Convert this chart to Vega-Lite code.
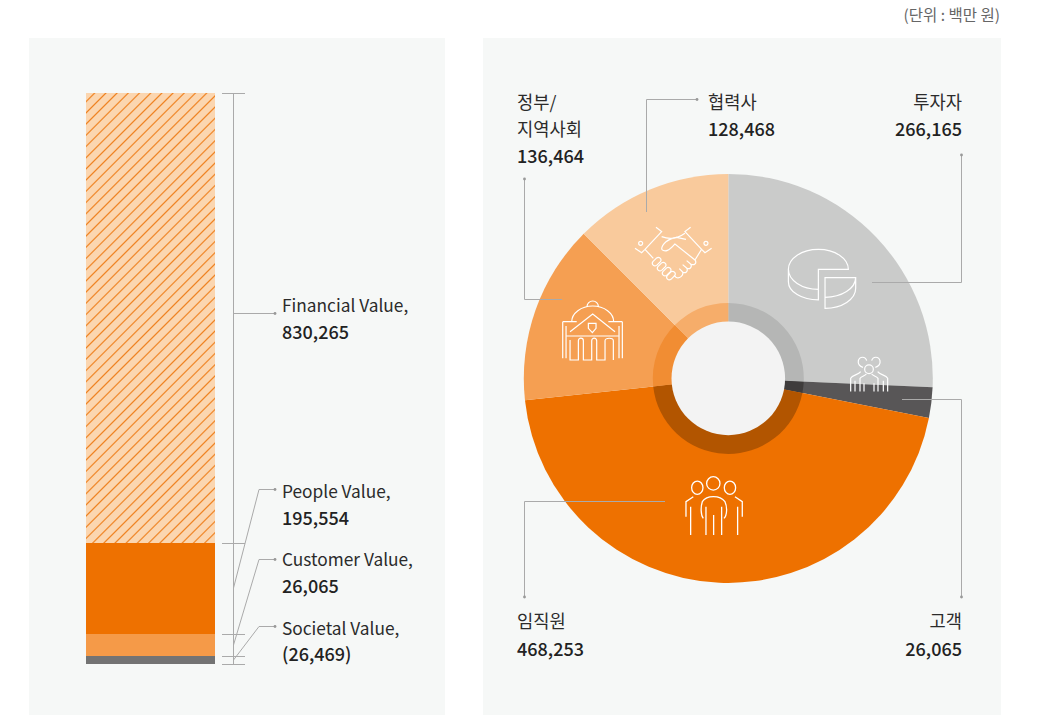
{"$schema":"https://vega.github.io/schema/vega-lite/v6.json","width":1038,"height":715,"padding":0,"autosize":{"type":"fit","contains":"padding"},"background":"#ffffff","config":{"view":{"stroke":null},"font":"Noto Sans CJK KR"},
"datasets":{
"panels":[{"name":"left","x":29,"x2":445,"y":38,"y2":715},{"name":"right","x":483,"x2":1001,"y":38,"y2":715}],
"stack":[{"seg":"People Value","value":195554,"y":543,"y2":634},{"seg":"Customer Value","value":26065,"y":634,"y2":656},{"seg":"Societal Value","value":-26469,"y":656,"y2":664}],
"pie":[{"seg":"투자자","value":266165,"deg":92.5,"ord":1},{"seg":"고객","value":26065,"deg":8.7,"ord":2},{"seg":"임직원","value":468253,"deg":162.7,"ord":3},{"seg":"정부/지역사회","value":136464,"deg":51.1,"ord":4},{"seg":"협력사","value":128468,"deg":45,"ord":5}],
"lines":[
{"g":"axis","o":1,"x":233.5,"y":93},{"g":"axis","o":2,"x":233.5,"y":664},
{"g":"t1","o":1,"x":222,"y":93.5},{"g":"t1","o":2,"x":245,"y":93.5},
{"g":"t2","o":1,"x":222,"y":543.5},{"g":"t2","o":2,"x":245,"y":543.5},
{"g":"t3","o":1,"x":222,"y":634.5},{"g":"t3","o":2,"x":245,"y":634.5},
{"g":"t4","o":1,"x":222,"y":656.5},{"g":"t4","o":2,"x":245,"y":656.5},
{"g":"t5","o":1,"x":222,"y":664.5},{"g":"t5","o":2,"x":245,"y":664.5},
{"g":"fin","o":1,"x":233.5,"y":313.5},{"g":"fin","o":2,"x":275,"y":313.5},
{"g":"peo","o":1,"x":233.5,"y":588},{"g":"peo","o":2,"x":259,"y":489.5},{"g":"peo","o":3,"x":275,"y":489.5},
{"g":"cus","o":1,"x":233.5,"y":645},{"g":"cus","o":2,"x":259,"y":559.5},{"g":"cus","o":3,"x":275,"y":559.5},
{"g":"soc","o":1,"x":233.5,"y":660},{"g":"soc","o":2,"x":259,"y":626.5},{"g":"soc","o":3,"x":275,"y":626.5},
{"g":"gov","o":1,"x":524.5,"y":179},{"g":"gov","o":2,"x":524.5,"y":299.5},{"g":"gov","o":3,"x":562,"y":299.5},
{"g":"par","o":1,"x":646.5,"y":212},{"g":"par","o":2,"x":646.5,"y":99.5},{"g":"par","o":3,"x":697,"y":99.5},
{"g":"inv","o":1,"x":961.5,"y":155},{"g":"inv","o":2,"x":961.5,"y":282.5},{"g":"inv","o":3,"x":872,"y":282.5},
{"g":"cli","o":1,"x":902,"y":399.5},{"g":"cli","o":2,"x":961.5,"y":399.5},{"g":"cli","o":3,"x":961.5,"y":597},
{"g":"emp","o":1,"x":665,"y":501.5},{"g":"emp","o":2,"x":524.5,"y":501.5},{"g":"emp","o":3,"x":524.5,"y":597}],
"dots":[{"x":275,"y":313.5},{"x":275,"y":489.5},{"x":275,"y":559.5},{"x":275,"y":626.5},{"x":524.5,"y":179},{"x":697,"y":99.5},{"x":961.5,"y":155},{"x":961.5,"y":597},{"x":524.5,"y":597}],
"textsL":[
{"t":"Financial Value,","x":282,"y":305,"k":"en"},{"t":"830,265","x":282,"y":332,"k":"num"},
{"t":"People Value,","x":282,"y":491,"k":"en"},{"t":"195,554","x":282,"y":518,"k":"num"},
{"t":"Customer Value,","x":282,"y":559,"k":"en"},{"t":"26,065","x":282,"y":586,"k":"num"},
{"t":"Societal Value,","x":282,"y":628,"k":"en"},{"t":"(26,469)","x":282,"y":654,"k":"num"},
{"t":"정부/","x":517,"y":102,"k":"ko"},{"t":"지역사회","x":517,"y":129,"k":"ko"},{"t":"136,464","x":517,"y":156,"k":"num"},
{"t":"협력사","x":708,"y":102,"k":"ko"},{"t":"128,468","x":708,"y":129,"k":"num"},
{"t":"임직원","x":517,"y":621,"k":"ko"},{"t":"468,253","x":517,"y":649,"k":"num"}],
"textsR":[
{"t":"투자자","x":962,"y":102,"k":"ko"},{"t":"266,165","x":962,"y":129,"k":"num"},
{"t":"고객","x":962,"y":621,"k":"ko"},{"t":"26,065","x":962,"y":649,"k":"num"}]
},
"resolve":{"scale":{"color":"independent"}},
"layer":[
{"data":{"name":"panels"},"mark":{"type":"rect","color":"#f6f8f7"},"encoding":{"x":{"field":"x","type":"quantitative","scale":{"domain":[0,1038],"nice":false,"zero":false},"axis":null},"x2":{"field":"x2"},"y":{"field":"y","type":"quantitative","scale":{"domain":[0,715],"reverse":true,"nice":false,"zero":false},"axis":null},"y2":{"field":"y2"}}},
{"data":{"values":[{"seg":"Financial Value","value":830265,"y":93,"y2":543}]},"mark":{"type":"rect","color":{"gradient":"linear","x1":0,"y1":0,"x2":0.34083,"y2":1.18893,"stops":[
{"offset":0,"color":"#fbd6b0"},{"offset":0.0122,"color":"#fbd6b0"},{"offset":0.015,"color":"#ee7f1c"},{"offset":0.0178,"color":"#fbd6b0"},
{"offset":0.0316,"color":"#fbd6b0"},{"offset":0.0344,"color":"#ee7f1c"},{"offset":0.0372,"color":"#fbd6b0"},
{"offset":0.0509,"color":"#fbd6b0"},{"offset":0.0537,"color":"#ee7f1c"},{"offset":0.0565,"color":"#fbd6b0"},
{"offset":0.0703,"color":"#fbd6b0"},{"offset":0.0731,"color":"#ee7f1c"},{"offset":0.0759,"color":"#fbd6b0"},
{"offset":0.0896,"color":"#fbd6b0"},{"offset":0.0924,"color":"#ee7f1c"},{"offset":0.0952,"color":"#fbd6b0"},
{"offset":0.109,"color":"#fbd6b0"},{"offset":0.1118,"color":"#ee7f1c"},{"offset":0.1146,"color":"#fbd6b0"},
{"offset":0.1283,"color":"#fbd6b0"},{"offset":0.1311,"color":"#ee7f1c"},{"offset":0.1339,"color":"#fbd6b0"},
{"offset":0.1476,"color":"#fbd6b0"},{"offset":0.1504,"color":"#ee7f1c"},{"offset":0.1532,"color":"#fbd6b0"},
{"offset":0.167,"color":"#fbd6b0"},{"offset":0.1698,"color":"#ee7f1c"},{"offset":0.1726,"color":"#fbd6b0"},
{"offset":0.1863,"color":"#fbd6b0"},{"offset":0.1891,"color":"#ee7f1c"},{"offset":0.1919,"color":"#fbd6b0"},
{"offset":0.2057,"color":"#fbd6b0"},{"offset":0.2085,"color":"#ee7f1c"},{"offset":0.2113,"color":"#fbd6b0"},
{"offset":0.225,"color":"#fbd6b0"},{"offset":0.2278,"color":"#ee7f1c"},{"offset":0.2306,"color":"#fbd6b0"},
{"offset":0.2444,"color":"#fbd6b0"},{"offset":0.2472,"color":"#ee7f1c"},{"offset":0.25,"color":"#fbd6b0"},
{"offset":0.2637,"color":"#fbd6b0"},{"offset":0.2665,"color":"#ee7f1c"},{"offset":0.2693,"color":"#fbd6b0"},
{"offset":0.283,"color":"#fbd6b0"},{"offset":0.2858,"color":"#ee7f1c"},{"offset":0.2886,"color":"#fbd6b0"},
{"offset":0.3024,"color":"#fbd6b0"},{"offset":0.3052,"color":"#ee7f1c"},{"offset":0.308,"color":"#fbd6b0"},
{"offset":0.3217,"color":"#fbd6b0"},{"offset":0.3245,"color":"#ee7f1c"},{"offset":0.3273,"color":"#fbd6b0"},
{"offset":0.3411,"color":"#fbd6b0"},{"offset":0.3439,"color":"#ee7f1c"},{"offset":0.3467,"color":"#fbd6b0"},
{"offset":0.3604,"color":"#fbd6b0"},{"offset":0.3632,"color":"#ee7f1c"},{"offset":0.366,"color":"#fbd6b0"},
{"offset":0.3798,"color":"#fbd6b0"},{"offset":0.3826,"color":"#ee7f1c"},{"offset":0.3854,"color":"#fbd6b0"},
{"offset":0.3991,"color":"#fbd6b0"},{"offset":0.4019,"color":"#ee7f1c"},{"offset":0.4047,"color":"#fbd6b0"},
{"offset":0.4184,"color":"#fbd6b0"},{"offset":0.4212,"color":"#ee7f1c"},{"offset":0.424,"color":"#fbd6b0"},
{"offset":0.4378,"color":"#fbd6b0"},{"offset":0.4406,"color":"#ee7f1c"},{"offset":0.4434,"color":"#fbd6b0"},
{"offset":0.4571,"color":"#fbd6b0"},{"offset":0.4599,"color":"#ee7f1c"},{"offset":0.4627,"color":"#fbd6b0"},
{"offset":0.4765,"color":"#fbd6b0"},{"offset":0.4793,"color":"#ee7f1c"},{"offset":0.4821,"color":"#fbd6b0"},
{"offset":0.4958,"color":"#fbd6b0"},{"offset":0.4986,"color":"#ee7f1c"},{"offset":0.5014,"color":"#fbd6b0"},
{"offset":0.5152,"color":"#fbd6b0"},{"offset":0.518,"color":"#ee7f1c"},{"offset":0.5208,"color":"#fbd6b0"},
{"offset":0.5345,"color":"#fbd6b0"},{"offset":0.5373,"color":"#ee7f1c"},{"offset":0.5401,"color":"#fbd6b0"},
{"offset":0.5539,"color":"#fbd6b0"},{"offset":0.5567,"color":"#ee7f1c"},{"offset":0.5595,"color":"#fbd6b0"},
{"offset":0.5732,"color":"#fbd6b0"},{"offset":0.576,"color":"#ee7f1c"},{"offset":0.5788,"color":"#fbd6b0"},
{"offset":0.5925,"color":"#fbd6b0"},{"offset":0.5953,"color":"#ee7f1c"},{"offset":0.5981,"color":"#fbd6b0"},
{"offset":0.6119,"color":"#fbd6b0"},{"offset":0.6147,"color":"#ee7f1c"},{"offset":0.6175,"color":"#fbd6b0"},
{"offset":0.6312,"color":"#fbd6b0"},{"offset":0.634,"color":"#ee7f1c"},{"offset":0.6368,"color":"#fbd6b0"},
{"offset":0.6506,"color":"#fbd6b0"},{"offset":0.6534,"color":"#ee7f1c"},{"offset":0.6562,"color":"#fbd6b0"},
{"offset":0.6699,"color":"#fbd6b0"},{"offset":0.6727,"color":"#ee7f1c"},{"offset":0.6755,"color":"#fbd6b0"},
{"offset":0.6893,"color":"#fbd6b0"},{"offset":0.6921,"color":"#ee7f1c"},{"offset":0.6949,"color":"#fbd6b0"},
{"offset":0.7086,"color":"#fbd6b0"},{"offset":0.7114,"color":"#ee7f1c"},{"offset":0.7142,"color":"#fbd6b0"},
{"offset":0.7279,"color":"#fbd6b0"},{"offset":0.7307,"color":"#ee7f1c"},{"offset":0.7335,"color":"#fbd6b0"},
{"offset":0.7473,"color":"#fbd6b0"},{"offset":0.7501,"color":"#ee7f1c"},{"offset":0.7529,"color":"#fbd6b0"},
{"offset":0.7666,"color":"#fbd6b0"},{"offset":0.7694,"color":"#ee7f1c"},{"offset":0.7722,"color":"#fbd6b0"},
{"offset":0.786,"color":"#fbd6b0"},{"offset":0.7888,"color":"#ee7f1c"},{"offset":0.7916,"color":"#fbd6b0"},
{"offset":0.8053,"color":"#fbd6b0"},{"offset":0.8081,"color":"#ee7f1c"},{"offset":0.8109,"color":"#fbd6b0"},
{"offset":0.8247,"color":"#fbd6b0"},{"offset":0.8275,"color":"#ee7f1c"},{"offset":0.8303,"color":"#fbd6b0"},
{"offset":0.844,"color":"#fbd6b0"},{"offset":0.8468,"color":"#ee7f1c"},{"offset":0.8496,"color":"#fbd6b0"},
{"offset":0.8633,"color":"#fbd6b0"},{"offset":0.8661,"color":"#ee7f1c"},{"offset":0.8689,"color":"#fbd6b0"},
{"offset":0.8827,"color":"#fbd6b0"},{"offset":0.8855,"color":"#ee7f1c"},{"offset":0.8883,"color":"#fbd6b0"},
{"offset":0.902,"color":"#fbd6b0"},{"offset":0.9048,"color":"#ee7f1c"},{"offset":0.9076,"color":"#fbd6b0"},
{"offset":0.9214,"color":"#fbd6b0"},{"offset":0.9242,"color":"#ee7f1c"},{"offset":0.927,"color":"#fbd6b0"},
{"offset":0.9407,"color":"#fbd6b0"},{"offset":0.9435,"color":"#ee7f1c"},{"offset":0.9463,"color":"#fbd6b0"},
{"offset":0.9601,"color":"#fbd6b0"},{"offset":0.9629,"color":"#ee7f1c"},{"offset":0.9657,"color":"#fbd6b0"},
{"offset":0.9794,"color":"#fbd6b0"},{"offset":0.9822,"color":"#ee7f1c"},{"offset":0.985,"color":"#fbd6b0"},
{"offset":1,"color":"#fbd6b0"}]}},"encoding":{"x":{"datum":86,"type":"quantitative"},"x2":{"datum":215},"y":{"field":"y","type":"quantitative"},"y2":{"field":"y2"}}},
{"data":{"name":"stack"},"mark":{"type":"rect"},"encoding":{"x":{"datum":86,"type":"quantitative"},"x2":{"datum":215},"y":{"field":"y","type":"quantitative"},"y2":{"field":"y2"},"color":{"field":"seg","type":"nominal","legend":null,"scale":{"domain":["People Value","Customer Value","Societal Value"],"range":["#ee7100","#f59a48","#737373"]}}}},
{"data":{"name":"pie"},"mark":{"type":"arc","radius":204.5,"radius2":0},"encoding":{"x":{"datum":728.3,"type":"quantitative"},"y":{"datum":378.4,"type":"quantitative"},"theta":{"field":"deg","type":"quantitative","stack":true,"scale":{"domain":[0,360]}},"order":{"field":"ord"},"color":{"field":"seg","type":"nominal","legend":null,"scale":{"domain":["투자자","고객","임직원","정부/지역사회","협력사"],"range":["#cacbca","#585657","#ee7100","#f59f52","#f9ca9c"]}}}},
{"data":{"name":"pie"},"mark":{"type":"arc","radius":75.5,"radius2":56},"encoding":{"x":{"datum":728.3,"type":"quantitative"},"y":{"datum":378.4,"type":"quantitative"},"theta":{"field":"deg","type":"quantitative","stack":true,"scale":{"domain":[0,360]}},"order":{"field":"ord"},"color":{"field":"seg","type":"nominal","legend":null,"scale":{"domain":["투자자","고객","임직원","정부/지역사회","협력사"],"range":["#b5b6b5","#3f3c3c","#b25500","#f18d33","#f6ad6a"]}}}},
{"data":{"values":[{"name":"center"}]},"mark":{"type":"point","filled":true,"color":"#f3f3f3","opacity":1,"size":12900,"shape":"circle"},"encoding":{"x":{"datum":728.3,"type":"quantitative"},"y":{"datum":378.4,"type":"quantitative"}}},
{"data":{"name":"lines"},"mark":{"type":"line","color":"#aaaaaa","strokeWidth":1,"clip":false},"encoding":{"x":{"field":"x","type":"quantitative"},"y":{"field":"y","type":"quantitative"},"detail":{"field":"g"},"order":{"field":"o"}}},
{"data":{"name":"dots"},"mark":{"type":"point","filled":true,"color":"#999999","opacity":1,"size":8,"shape":"circle"},"encoding":{"x":{"field":"x","type":"quantitative"},"y":{"field":"y","type":"quantitative"}}},
{"data":{"values":[{"name":"handshake"}]},"mark":{"type":"point","filled":false,"color":"#ffffff","opacity":1,"strokeWidth":1.2,"size":0.444,"shape":"M-115,-15L-95,-2L-85,-12L-35,-65L-52,-78M115,-15L95,-2L85,-12L35,-65L52,-78M-35,-50C-15,-42 10,-42 35,-60M-92,-30A6,6 0 1 1 -104,-30A6,6 0 1 1 -92,-30M104,-30A6,6 0 1 1 92,-30A6,6 0 1 1 104,-30M-85,-12L-60,15M85,-12L65,20M-35,-12C-35,-28 -15,-45 10,-48L38,-42M-35,-12C-25,-2 -12,-8 5,-28L65,20C72,30 62,38 52,32L40,22M52,32C58,42 48,50 40,44L28,34M40,44C46,54 36,62 28,56L18,46M28,56C32,66 18,78 8,72L2,66M-50,13.8A8,8 0 0 1 -38.8,25L-50,36.2A8,8 0 0 1 -61.2,25ZM-35,28.8A8,8 0 0 1 -23.8,40L-35,51.2A8,8 0 0 1 -46.2,40ZM-20,43.8A8,8 0 0 1 -8.8,55L-20,66.2A8,8 0 0 1 -31.2,55ZM-7,55.8A8,8 0 0 1 4.2,67L-7,78.2A8,8 0 0 1 -18.2,67Z"},"encoding":{"x":{"datum":673.3,"type":"quantitative"},"y":{"datum":253.3,"type":"quantitative"}}},
{"data":{"values":[{"name":"piechart"}]},"mark":{"type":"point","filled":false,"color":"#ffffff","opacity":1,"strokeWidth":1.2,"size":0.444,"shape":"M-10,-27L80,-27A90,60 0 1 0 -10,33ZM-100,-27L-100,10A90,55 0 0 0 -10,65L-10,33M10,-2L102,-2A92,60 0 0 1 10,57ZM102,-2L102,30A92,60 0 0 1 10,90L10,57"},"encoding":{"x":{"datum":821.7,"type":"quantitative"},"y":{"datum":278.3,"type":"quantitative"}}},
{"data":{"values":[{"name":"building"}]},"mark":{"type":"point","filled":false,"color":"#ffffff","opacity":1,"strokeWidth":1.2,"size":0.444,"shape":"M-17,-71A17,16 0 0 1 17,-71M-63,-25C-63,-50 -35,-72 0,-72C35,-72 63,-50 63,-25M-90,-25L-48,-25M47,-25L89,-25M-90,-25L-90,85M89,-25L89,85M-80,-12L-80,85M79,-12L79,85M-68,5L0,-48L67,5M-13,-20L10,-20L10,-5L-1,8L-13,-5ZM-78,18L77,18M-68,30L-68,90L-43,90L-43,32A7,7 0 0 1 -28,32L-28,90L-3,90L-3,32A7,7 0 0 1 12,32L12,90L37,90L37,32A12,7 0 0 1 62,32L62,90"},"encoding":{"x":{"datum":592.7,"type":"quantitative"},"y":{"datum":330,"type":"quantitative"}}},
{"data":{"values":[{"name":"people small"}]},"mark":{"type":"point","filled":false,"color":"#ffffff","opacity":1,"strokeWidth":1.2,"size":0.444,"shape":"M-32,-38A13,14 0 0 1 -7,-38M8,-38A13,14 0 0 1 33,-38M-13,-12A13,13 0 1 1 13,-12A13,13 0 1 1 -13,-12M-32,-38C-34,-28 -28,-20 -18,-18M33,-38C35,-28 29,-20 19,-18M-55,55L-55,15C-50,5 -32,5 -25,-5M56,55L56,15C51,5 33,5 26,-5M-42,22L-42,55M43,22L43,55M-27,55L-27,15C-22,8 -12,8 -8,2M27,55L27,15C22,8 12,8 8,2M-15,30L-15,55M15,30L15,55"},"encoding":{"x":{"datum":869,"type":"quantitative"},"y":{"datum":373.3,"type":"quantitative"}}},
{"data":{"values":[{"name":"people large"}]},"mark":{"type":"point","filled":false,"color":"#ffffff","opacity":1,"strokeWidth":1.3,"size":0.444,"shape":"M-20,-70A20,20 0 1 1 20,-70A20,20 0 1 1 -20,-70M-65,-57A17,20 0 1 1 -31,-57A17,20 0 1 1 -65,-57M33,-57A17,20 0 1 1 67,-57A17,20 0 1 1 33,-57M-30,35C-38,25 -38,0 -33,-15C-20,-35 20,-35 35,-15C42,0 42,25 32,35M-22,0L-22,85M25,0L25,85M1,25L1,85M-60,-30L-82,-15L-82,30M65,-30L87,-15L87,30M-68,0L-68,85M73,0L73,85"},"encoding":{"x":{"datum":713.3,"type":"quantitative"},"y":{"datum":506.7,"type":"quantitative"}}},
{"data":{"name":"textsL"},"transform":[{"filter":"datum.k!=='num'"}],"mark":{"type":"text","align":"left","baseline":"middle","dy":2,"font":"Noto Sans CJK KR","fontWeight":400,"color":"#2b2b2b"},"encoding":{"x":{"field":"x","type":"quantitative"},"y":{"field":"y","type":"quantitative"},"text":{"field":"t"},"size":{"field":"k","type":"nominal","legend":null,"scale":{"domain":["en","ko","num"],"range":[17.3,18,18]}}}},
{"data":{"name":"textsL"},"transform":[{"filter":"datum.k==='num'"}],"mark":{"type":"text","align":"left","baseline":"middle","dy":2,"font":"Noto Sans CJK KR","fontWeight":500,"color":"#222222"},"encoding":{"x":{"field":"x","type":"quantitative"},"y":{"field":"y","type":"quantitative"},"text":{"field":"t"},"size":{"field":"k","type":"nominal","legend":null,"scale":{"domain":["en","ko","num"],"range":[17.3,18,18]}}}},
{"data":{"name":"textsR"},"transform":[{"filter":"datum.k!=='num'"}],"mark":{"type":"text","align":"right","baseline":"middle","dy":2,"font":"Noto Sans CJK KR","fontWeight":400,"color":"#2b2b2b"},"encoding":{"x":{"field":"x","type":"quantitative"},"y":{"field":"y","type":"quantitative"},"text":{"field":"t"},"size":{"field":"k","type":"nominal","legend":null,"scale":{"domain":["en","ko","num"],"range":[17.3,18,18]}}}},
{"data":{"name":"textsR"},"transform":[{"filter":"datum.k==='num'"}],"mark":{"type":"text","align":"right","baseline":"middle","dy":2,"font":"Noto Sans CJK KR","fontWeight":500,"color":"#222222"},"encoding":{"x":{"field":"x","type":"quantitative"},"y":{"field":"y","type":"quantitative"},"text":{"field":"t"},"size":{"field":"k","type":"nominal","legend":null,"scale":{"domain":["en","ko","num"],"range":[17.3,18,18]}}}},
{"data":{"values":[{"t":"(단위 : 백만 원)"}]},"mark":{"type":"text","align":"right","baseline":"middle","fontSize":15.5,"font":"Noto Sans CJK KR","color":"#666666"},"encoding":{"x":{"datum":1000,"type":"quantitative"},"y":{"datum":15.5,"type":"quantitative"},"text":{"field":"t"}}}
]}
